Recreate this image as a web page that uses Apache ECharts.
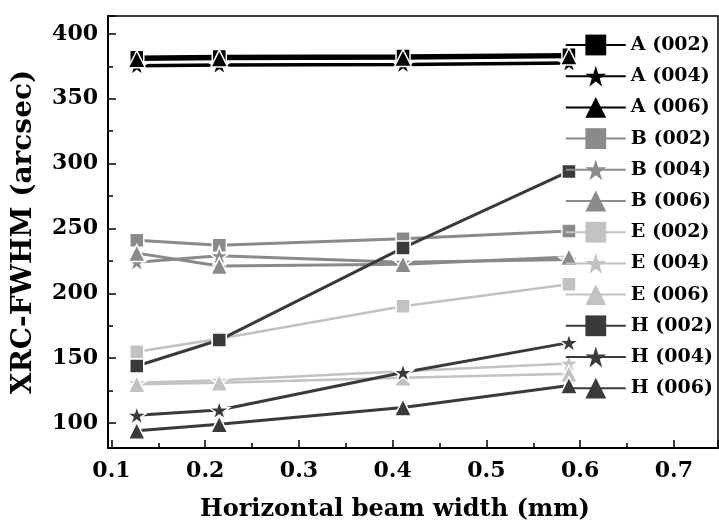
<!DOCTYPE html>
<html>
<head>
<meta charset="utf-8">
<script src="https://cdn.jsdelivr.net/npm/echarts@6/dist/echarts.min.js"></script>
<style>html,body{margin:0;padding:0;background:#fff}#c{width:719px;height:527px}</style>
</head>
<body>
<div id="c"></div>
<script>
// x positions (horizontal beam width, mm)
const beamWidth = [0.127, 0.215, 0.411, 0.588];
// XRC-FWHM values (arcsec)
const A002 = [382, 382.5, 383, 384];
const A004 = [375.5, 376, 376.5, 377.5];
const A006 = [380.5, 381, 381.5, 382.5];
const B002 = [241, 237, 242, 248];
const B004 = [224, 229, 224, 226];
const B006 = [231, 221, 222.5, 228];
const E002 = [155, 165, 190, 207];
const E004 = [131, 133, 140, 146];
const E006 = [130, 131, 135, 138];
const H002 = [144, 164, 235, 294];
const H004 = [106, 110, 139, 162];
const H006 = [94, 99, 112, 129];
const seriesNames = ['A (002)','A (004)','A (006)','B (002)','B (004)','B (006)','E (002)','E (004)','E (006)','H (002)','H (004)','H (006)'];
const seriesValues = [A002,A004,A006,B002,B004,B006,E002,E004,E006,H002,H004,H006];

const STAR = 'path://M50,0 L61.8,35.4 L100,35.4 L69.1,57.3 L80.9,93.5 L50,70.8 L19.1,93.5 L30.9,57.3 L0,35.4 L38.2,35.4 Z';
const shapes = ['rect', STAR, 'triangle'];
const groupStyle = [
  {color:'#000000', width:3.5},
  {color:'#8a8a8a', width:3},
  {color:'#c2c2c2', width:2.5},
  {color:'#3a3a3a', width:3}
];
const FONT = 'DejaVu Serif';

const series = seriesNames.map((name, i) => {
  const g = groupStyle[Math.floor(i/3)];
  const shp = shapes[i%3];
  return {
    name: name,
    type: 'line',
    data: beamWidth.map((x, k) => [x, seriesValues[i][k]]),
    symbol: shp,
    symbolSize: shp === STAR ? 20 : (shp === 'triangle' ? 17 : 14),
    symbolKeepAspect: true,
    showAllSymbol: true,
    lineStyle: {color: g.color, width: g.width},
    itemStyle: {color: g.color, borderColor: '#ffffff', borderWidth: 1.5},
    emphasis: {disabled: true},
    animation: false
  };
});

const chart = echarts.init(document.getElementById('c'), null, {renderer: 'canvas'});
chart.setOption({
  animation: false,
  backgroundColor: '#ffffff',
  grid: {left: 108, right: 1, top: 16, bottom: 78, show: true, borderColor: '#000', borderWidth: 1.5},
  legend: {
    orient: 'vertical',
    right: 6,
    top: 32,
    padding: 0,
    itemWidth: 60,
    itemHeight: 26,
    itemGap: 5.2,
    data: seriesNames,
    itemStyle: {borderWidth: 0},
    textStyle: {fontFamily: FONT, fontWeight: 'bold', fontSize: 19, color: '#000', lineHeight: 26}
  },
  xAxis: {
    type: 'value',
    min: 0.0963,
    max: 0.747,
    name: 'Horizontal beam width (mm)',
    nameLocation: 'middle',
    nameGap: 50,
    nameTextStyle: {fontFamily: FONT, fontWeight: 'bold', fontSize: 24, color: '#000', padding: [0, 36, 0, 0]},
    axisLine: {lineStyle: {color: '#000', width: 2}},
    axisTick: {inside: true, length: 8, lineStyle: {color: '#000', width: 1.5}},
    minorTick: {show: true, splitNumber: 2, length: 5, lineStyle: {color: '#000', width: 1.5}},
    splitLine: {show: false},
    axisLabel: {
      fontFamily: FONT, fontWeight: 'bold', fontSize: 22, color: '#000', margin: 12,
      showMinLabel: false, showMaxLabel: false,
      formatter: v => (Math.abs(v*10 - Math.round(v*10)) < 1e-6) ? v.toFixed(1) : ''
    }
  },
  yAxis: {
    type: 'value',
    min: 80.77,
    max: 413.8,
    name: 'XRC-FWHM (arcsec)',
    nameLocation: 'middle',
    nameGap: 70,
    nameTextStyle: {fontFamily: FONT, fontWeight: 'bold', fontSize: 28, color: '#000'},
    axisLine: {lineStyle: {color: '#000', width: 2}},
    axisTick: {inside: true, length: 8, lineStyle: {color: '#000', width: 1.5}},
    minorTick: {show: true, splitNumber: 2, length: 5, lineStyle: {color: '#000', width: 1.5}},
    splitLine: {show: false},
    axisLabel: {
      fontFamily: FONT, fontWeight: 'bold', fontSize: 22, color: '#000', margin: 10,
      showMinLabel: false, showMaxLabel: false,
      formatter: v => (Math.abs(v/50 - Math.round(v/50)) < 1e-6) ? String(Math.round(v)) : ''
    }
  },
  series: series
});
</script>
</body>
</html>
